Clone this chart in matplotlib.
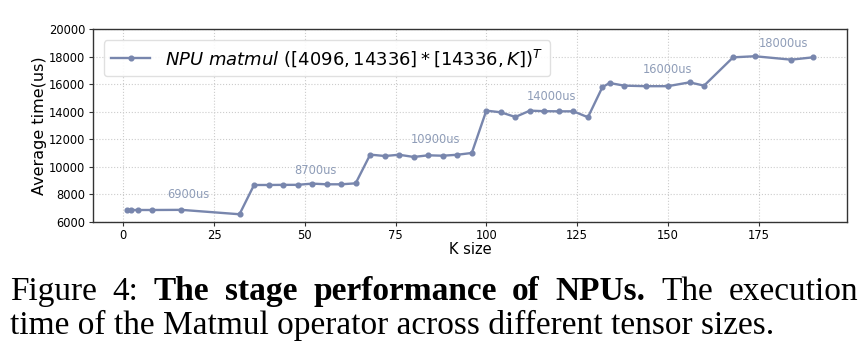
import matplotlib
matplotlib.use("Agg")
import matplotlib.pyplot as plt

# K sizes and measured matmul time on NPU (us)
k_size = [1, 2, 4, 8, 16, 32, 36, 40, 44, 48, 52, 56, 60, 64,
          68, 72, 76, 80, 84, 88, 92, 96, 100, 104, 108, 112, 116, 120,
          124, 128, 132, 134, 138, 144, 150, 156, 160, 168, 174, 184, 190]
avg_time = [6860, 6850, 6850, 6850, 6860, 6540, 8670, 8670, 8680, 8680, 8770, 8720, 8720, 8790,
            10880, 10780, 10870, 10710, 10830, 10800, 10870, 11000, 14080, 13960, 13620, 14080, 14040, 14030,
            14030, 13600, 15800, 16090, 15900, 15860, 15860, 16140, 15900, 17960, 18040, 17790, 17960]

stage_text = ["6900us", "8700us", "10900us", "14000us", "16000us", "18000us"]
stage_x = [18, 53, 86, 118, 150, 182]
stage_y = [8000, 9750, 12000, 15080, 17090, 18980]

# caption words (line 1 is justified, line 2 is left aligned)
cap_words = ["Figure", "4:", "The", "stage", "performance", "of", "NPUs.", "The", "execution"]
cap_weights = ["normal", "normal", "bold", "bold", "bold", "bold", "bold", "normal", "normal"]
cap_line2 = "time of the Matmul operator across different tensor sizes."

line_color = "#7886ad"
text_color = "#8f9db8"

fig = plt.figure(figsize=(8.68, 3.64), dpi=100)
ax = fig.add_axes([0.1068, 0.391, 0.8693, 0.5285])

ax.plot(k_size, avg_time, color=line_color, lw=1.7, marker="o", ms=3.4,
        label=r"$\mathit{NPU\ matmul}$ $([4096, 14336] * [14336, K])^T$")

for t, x, y in zip(stage_text, stage_x, stage_y):
    ax.text(x, y, t, color=text_color, fontsize=8.3, ha="center", va="center")

ax.set_ylim(6000, 20000)
ax.set_yticks(range(6000, 20001, 2000))
ax.set_xticks([0, 25, 50, 75, 100, 125, 150, 175])
ax.tick_params(labelsize=8.3, length=3, color="#333333", pad=2.5)
ax.grid(True, ls=":", color="#cccccc", lw=0.8)
ax.set_axisbelow(True)
for s in ax.spines.values():
    s.set_color("#333333")
    s.set_linewidth(1.0)

ax.set_xlabel("K size", fontsize=10.5, labelpad=0)
ax.set_ylabel("Average time(us)", fontsize=11.5, labelpad=1)

ax.legend(loc="upper left", fontsize=13, handlelength=2.2, borderaxespad=0.6,
          framealpha=0.9, edgecolor="#dddddd", fancybox=True)

# caption
cap_font = ["Liberation Serif", "DejaVu Serif"]
cap_size = 24
y1 = 1 - 300 / 364
y2 = 1 - 334 / 364
x_left, x_right = 10, 858
W = fig.bbox.width

r = fig.canvas.get_renderer()
texts = [fig.text(0, y1, w, family=cap_font, fontsize=cap_size, weight=wt, va="baseline")
         for w, wt in zip(cap_words, cap_weights)]
widths = [t.get_window_extent(r).width for t in texts]
gap = (x_right - x_left - sum(widths)) / (len(texts) - 1)
x = x_left
for t, w in zip(texts, widths):
    t.set_x(x / W)
    x += w + gap

fig.text(x_left / W, y2, cap_line2, family=cap_font, fontsize=cap_size, va="baseline")

fig.savefig("out.png", dpi=100)
